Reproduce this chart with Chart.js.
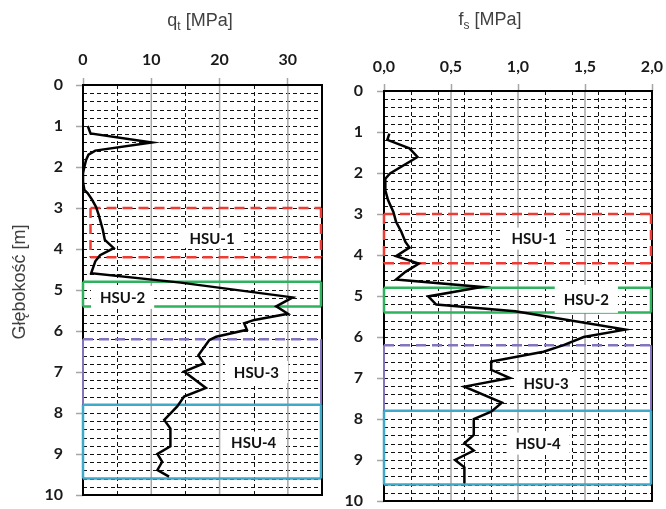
<!DOCTYPE html>
<html>
<head>
<meta charset="utf-8">
<script src="https://cdn.jsdelivr.net/npm/chart.js@4.4.0/dist/chart.umd.min.js"></script>
<style>
  html, body { margin: 0; padding: 0; background: #fff; overflow: hidden; }
  #wrap { position: relative; width: 666px; height: 509px; overflow: hidden; }
  #left { position: absolute; left: 0; top: 0; width: 333px; height: 509px; }
  #right { position: absolute; left: 333px; top: 0; width: 333px; height: 509px; }
</style>
</head>
<body>
<div id="wrap">
  <canvas id="left" width="333" height="509"></canvas>
  <canvas id="right" width="333" height="509"></canvas>
</div>
<script>
// tick labels
var depthTicks = [0, 1, 2, 3, 4, 5, 6, 7, 8, 9, 10];
var qtTicks = [0, 10, 20, 30];
var fsTicks = [0, 0.5, 1.0, 1.5, 2.0];

// q_t profile (depth [m], value [MPa])
var qtDepth = [1.0, 1.18, 1.4, 1.6, 1.7, 1.83, 2.0, 2.15, 2.36, 2.56, 2.64, 2.79, 2.97, 3.17, 3.53, 3.78,
               3.98, 4.15, 4.3, 4.59, 4.82, 5.18, 5.4, 5.58, 5.73, 5.81, 5.97, 6.14, 6.22, 6.59, 6.79,
               6.99, 7.39, 7.6, 7.84, 8.17, 8.38, 8.81, 9.0, 9.19, 9.39, 9.55];
var qtValues = [0.7, 1.1, 10.1, 1.8, 0.8, 0.45, 0.2, 0.0, 0.0, 0.2, 0.7, 1.3, 1.9, 2.3, 2.9, 3.2,
                4.5, 2.5, 1.8, 1.2, 14.3, 30.7, 28.3, 30.0, 25.1, 23.6, 24.0, 19.5, 18.5, 16.9, 17.7,
                14.8, 18.0, 14.8, 13.8, 11.9, 12.8, 12.8, 10.9, 11.6, 10.9, 12.6];

// f_s profile (depth [m], value [MPa])
var fsDepth = [1.04, 1.19, 1.4, 1.61, 2.01, 2.14, 2.42, 2.66, 2.95, 3.19, 3.44, 3.68, 3.82, 4.03, 4.21,
               4.41, 4.6, 4.78, 5.01, 5.21, 5.37, 5.82, 6.0, 6.2, 6.36, 6.6, 6.8, 7.0, 7.21, 7.6, 7.82,
               8.0, 8.39, 8.59, 8.77, 9.0, 9.18, 9.57];
var fsValues = [0.04, 0.025, 0.19, 0.25, 0.045, 0.01, 0.01, 0.03, 0.07, 0.09, 0.13, 0.16, 0.19, 0.09, 0.26,
                0.16, 0.09, 0.73, 0.33, 0.39, 0.98, 1.80, 1.49, 1.34, 1.19, 0.80, 0.80, 0.94, 0.60, 0.88, 0.80,
                0.67, 0.67, 0.60, 0.67, 0.53, 0.60, 0.60];

// hydro-stratigraphic units
var hsuNames = ['HSU-1', 'HSU-2', 'HSU-3', 'HSU-4'];
var hsuTop = [3.0, 4.8, 6.2, 7.8];
var hsuBottom = [4.2, 5.4, 7.8, 9.6];
var hsuStartQt = [1.1, 0, 0, 0];
var hsuStartFs = [0, 0, 0, 0];

// zone styles and label placement (layout only)
var zoneStyle = [
  { color: '#ef3b33', width: 2.5, dash: [10, 6], sideDash: [10, 6], sideWidth: 2.5, bottom: true },
  { color: '#2fb25e', width: 2.5, dash: [], sideDash: [], sideWidth: 2.5, bottom: true },
  { color: '#8374bd', width: 2.5, dash: [10, 6], sideDash: [], sideWidth: 2, bottom: false },
  { color: '#3fa9c9', width: 2.5, dash: [], sideDash: [], sideWidth: 2.5, bottom: true }
];
var qtLabelAt = [[18.9, 3.73, 20], [5.8, 5.18, 23], [25.4, 7.0, 22], [25.0, 8.72, 22]];
var fsLabelAt = [[1.12, 3.6, 22], [1.51, 5.07, 28], [1.21, 7.12, 22], [1.15, 8.6, 22]];

var tickFont = { family: 'Lato', size: 16, weight: 'bold' };

// no extra room for labels hanging over the plot ends
function fixAxis(s, w, h) {
  if (w) s.width = w;
  if (h) s.height = h;
  s.paddingLeft = 0; s.paddingRight = 0; s.paddingTop = 0; s.paddingBottom = 0;
}

// grid, frame, zones and labels drawn under the profile line
var profilePlugin = {
  id: 'profile',
  beforeDatasetsDraw: function (chart, args, o) {
    var ctx = chart.ctx, a = chart.chartArea, x = chart.scales.x, y = chart.scales.y;
    ctx.save();
    // horizontal dashed lines every 0.2 m
    ctx.lineWidth = 1;
    ctx.strokeStyle = '#111';
    ctx.setLineDash([4, 3]);
    for (var i = 1; i < 50; i++) {
      var py = Math.round(y.getPixelForValue(i * 0.2)) + 0.5;
      ctx.beginPath(); ctx.moveTo(a.left, py); ctx.lineTo(a.right, py); ctx.stroke();
    }
    // vertical lines: dashed minor, solid grey major
    for (var j = 1; j * o.minor < x.max - 1e-6; j++) {
      var v = j * o.minor;
      if (Math.abs(v / o.major - Math.round(v / o.major)) < 1e-6) continue;
      var px = Math.round(x.getPixelForValue(v)) + 0.5;
      ctx.beginPath(); ctx.moveTo(px, a.top); ctx.lineTo(px, a.bottom); ctx.stroke();
    }
    ctx.setLineDash([]);
    ctx.strokeStyle = '#a6a6a6';
    ctx.lineWidth = 1.5;
    for (var k = 1; k * o.major < x.max - 1e-6; k++) {
      var pm = x.getPixelForValue(k * o.major);
      ctx.beginPath(); ctx.moveTo(pm, a.top); ctx.lineTo(pm, a.bottom); ctx.stroke();
    }
    // frame
    ctx.strokeStyle = '#000';
    ctx.lineWidth = 2;
    ctx.strokeRect(a.left, a.top, a.right - a.left, a.bottom - a.top);

    // zones
    for (var z = 0; z < hsuNames.length; z++) {
      var s = zoneStyle[z];
      var l = x.getPixelForValue(o.start[z]), r = x.getPixelForValue(x.max) - 1;
      var t = y.getPixelForValue(hsuTop[z]), b = y.getPixelForValue(hsuBottom[z]);
      ctx.strokeStyle = s.color;
      ctx.lineWidth = s.sideWidth;
      ctx.setLineDash(s.sideDash);
      ctx.beginPath();
      ctx.moveTo(l, t); ctx.lineTo(l, b);
      ctx.moveTo(r, t); ctx.lineTo(r, b);
      ctx.stroke();
      ctx.lineWidth = s.width;
      ctx.setLineDash(s.dash);
      ctx.beginPath();
      ctx.moveTo(l, t); ctx.lineTo(r, t);
      if (s.bottom) { ctx.moveTo(l, b); ctx.lineTo(r, b); }
      ctx.stroke();
    }
    // labels with white boxes
    ctx.setLineDash([]);
    ctx.font = 'bold 15px Lato';
    ctx.textAlign = 'center';
    ctx.textBaseline = 'middle';
    for (var n = 0; n < hsuNames.length; n++) {
      var p = o.labels[n];
      var cx = x.getPixelForValue(p[0]), cy = y.getPixelForValue(p[1]);
      var w = ctx.measureText(hsuNames[n]).width + 18, h = p[2];
      ctx.fillStyle = '#fff';
      ctx.fillRect(cx - w / 2, cy - h / 2, w, h);
      ctx.fillStyle = '#111';
      ctx.fillText(hsuNames[n], cx, cy + 1);
    }
    ctx.restore();
  },
  afterDraw: function (chart, args, o) {
    var ctx = chart.ctx;
    ctx.save();
    ctx.fillStyle = '#404040';
    ctx.textBaseline = 'alphabetic';
    ctx.textAlign = 'left';
    ctx.font = '18px "Liberation Sans"';
    var w1 = ctx.measureText(o.sym).width;
    var w3 = ctx.measureText(o.unit).width;
    ctx.font = '12px "Liberation Sans"';
    var w2 = ctx.measureText(o.sub).width;
    var x0 = o.cx - (w1 + w2 + w3) / 2;
    ctx.font = '18px "Liberation Sans"';
    ctx.fillText(o.sym, x0, o.base);
    ctx.fillText(o.unit, x0 + w1 + w2, o.base);
    ctx.font = '12px "Liberation Sans"';
    ctx.fillText(o.sub, x0 + w1, o.base + 4);
    if (o.yTitle) {
      ctx.font = '18px "Liberation Sans"';
      ctx.translate(o.yTitle[1], o.yTitle[2]);
      ctx.rotate(-Math.PI / 2);
      ctx.textAlign = 'center';
      ctx.textBaseline = 'middle';
      ctx.fillText(o.yTitle[0], 0, 0);
    }
    ctx.restore();
  }
};

function makeChart(id, depth, values, xMax, xTicks, axisW, padRight, padBottom, topH, xPad, yPad, fmt, pluginOpts) {
  var pts = depth.map(function (d, i) { return { x: values[i], y: d }; });
  return new Chart(document.getElementById(id), {
    type: 'scatter',
    data: {
      datasets: [{
        data: pts,
        showLine: true,
        borderColor: '#000',
        borderWidth: 2.5,
        pointRadius: 0,
        tension: 0
      }]
    },
    options: {
      responsive: false,
      animation: false,
      layout: { padding: { left: 0, top: 0, right: padRight, bottom: padBottom } },
      plugins: {
        legend: { display: false },
        tooltip: { enabled: false },
        profile: pluginOpts
      },
      scales: {
        x: {
          type: 'linear',
          position: 'top',
          min: 0,
          max: xMax,
          afterBuildTicks: function (s) { s.ticks = xTicks.map(function (v) { return { value: v }; }); },
          afterFit: function (s) { fixAxis(s, 0, topH); },
          grid: { drawOnChartArea: false, tickLength: 7, tickColor: '#a6a6a6', tickWidth: 1.5 },
          border: { display: false },
          ticks: { font: tickFont, color: '#1a1a1a', padding: xPad, maxRotation: 0, callback: fmt }
        },
        y: {
          type: 'linear',
          reverse: true,
          min: 0,
          max: 10,
          afterBuildTicks: function (s) { s.ticks = depthTicks.map(function (v) { return { value: v }; }); },
          afterFit: function (s) { fixAxis(s, axisW, 0); },
          grid: { drawOnChartArea: false, tickLength: 7, tickColor: '#a6a6a6', tickWidth: 1.5 },
          border: { display: false },
          ticks: { font: tickFont, color: '#1a1a1a', padding: yPad }
        }
      }
    },
    plugins: [profilePlugin]
  });
}

makeChart('left', qtDepth, qtValues, 35, qtTicks, 83, 11, 14, 85, 9, 13,
  function (v) { return String(v); },
  { minor: 5, major: 10, start: hsuStartQt, labels: qtLabelAt,
    sym: 'q', sub: 't', unit: ' [MPa]', cx: 200, base: 26,
    yTitle: ['Głębokość [m]', 20, 282] });

makeChart('right', fsDepth, fsValues, 2.0, fsTicks, 51, 14, 8, 91, 8, 14,
  function (v) { return v.toFixed(1).replace('.', ','); },
  { minor: 0.2, major: 0.5, start: hsuStartFs, labels: fsLabelAt,
    sym: 'f', sub: 's', unit: ' [MPa]', cx: 157, base: 25 });
</script>
</body>
</html>
